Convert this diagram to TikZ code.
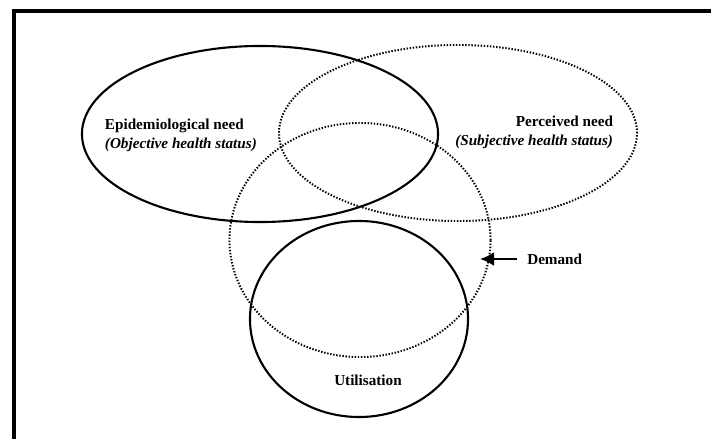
\documentclass[tikz,border=0pt]{standalone}
\usepackage{fontspec}
\setmainfont{Liberation Serif}
\usepackage{tikz}
\usetikzlibrary{arrows.meta}
\usetikzlibrary{shapes.geometric, calc}

\begin{document}
\begin{tikzpicture}[x=0.025cm, y=-0.025cm,
    solidring/.style={ellipse, draw, line width=1.5pt, inner sep=0pt},
    dotring/.style={ellipse, draw, line width=1.4pt, dash pattern=on 1pt off 1.2pt, inner sep=0pt},
    lbl/.style={font=\fontsize{10.8}{13.5}\selectfont\bfseries}]
  \useasboundingbox (0,0) rectangle (711,439);
  % frame: left and top edges only
  \draw[line width=2.4pt] (14,439) -- (14,11) -- (711,11);

  \node[solidring, minimum width=8.9cm, minimum height=4.4cm] (epi) at (260,134) {};
  \node[dotring, minimum width=8.95cm, minimum height=4.4cm] (perc) at (458,133) {};
  \node[dotring, minimum width=6.525cm, minimum height=5.85cm] (dem) at (360,240) {};
  \node[solidring, minimum width=5.45cm, minimum height=4.9cm] (util) at (359,319) {};

  \node[lbl, align=left, anchor=west] (epitext) at (100,135.5)
    {Epidemiological need\\\textit{(Objective health status)}};
  \node[lbl, align=right, anchor=east] (perctext) at (618,132.5)
    {Perceived need\\\textit{(Subjective health status)}};
  \node[lbl, anchor=west, inner sep=0pt] (demtext) at (527,259) {Demand};
  \node[lbl] (utiltext) at (368,380) {Utilisation};

  \coordinate (demtip) at (480,259);
  \draw[line width=1.8pt, -{Latex[length=3.5mm, width=3.5mm]}] ($(demtext.west)+(-10,0)$) -- (demtip);
\end{tikzpicture}
\end{document}
